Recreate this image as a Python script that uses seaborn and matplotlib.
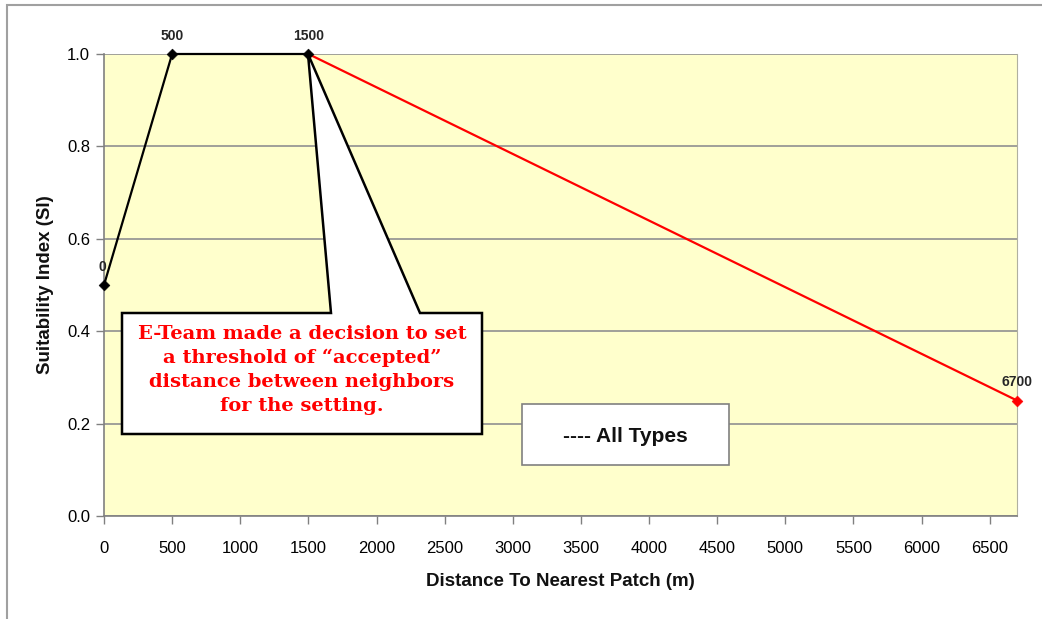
import matplotlib
matplotlib.use("Agg")
import matplotlib.pyplot as plt
from matplotlib.patches import Polygon, Rectangle
import seaborn as sns
import pandas as pd

# --- Dati ---
distance = [0, 500, 1500, 6700]
suitability = [0.5, 1.0, 1.0, 0.25]
point_labels = ["0", "500", "1500", "6700"]
black_part = [0, 1, 2]
red_part = [2, 3]
x_ticks = list(range(0, 7000, 500))
y_ticks = [0.0, 0.2, 0.4, 0.6, 0.8, 1.0]
callout_text = ("E-Team made a decision to set\na threshold of \u201caccepted\u201d\n"
                "distance between neighbors\nfor the setting.")

sns.set_style("white")
plt.rcParams["font.family"] = ["Liberation Sans", "DejaVu Sans"]

df = pd.DataFrame({"distance": distance, "si": suitability})

fig = plt.figure(figsize=(10.42, 6.19), dpi=100)
ax = fig.add_axes([104 / 1042, 1 - 516 / 619, 913 / 1042, 462 / 619])
ax.set_facecolor("#FFFFCC")
ax.set_axisbelow(True)

# cornice esterna
fig.patches.append(Rectangle((7 / 1042, -0.01), 1.2, 1 - 5 / 619 + 0.01, transform=fig.transFigure,
                             fill=False, edgecolor="#A0A0A0", linewidth=1.5))

sns.lineplot(data=df.iloc[black_part], x="distance", y="si", color="black", linewidth=1.6,
             ax=ax, sort=False, zorder=4, clip_on=False)
sns.lineplot(data=df.iloc[red_part], x="distance", y="si", color="#FF0000", linewidth=1.6,
             ax=ax, sort=False, zorder=3, clip_on=False)
sns.scatterplot(x=distance[:3], y=suitability[:3], marker="D", s=30, color="black",
                edgecolor="black", ax=ax, zorder=5, clip_on=False)
sns.scatterplot(x=distance[3:], y=suitability[3:], marker="D", s=30, color="#FF0000",
                edgecolor="#FF0000", ax=ax, zorder=5, clip_on=False)

for xv, yv, lab in zip(distance, suitability, point_labels):
    dx = -1 if lab == "0" else 0
    ax.annotate(lab, (xv, yv), xytext=(dx, 8), textcoords="offset points",
                ha="center", va="bottom", fontsize=10, fontweight="bold")

ax.set_xlim(0, 6700)
ax.set_ylim(0, 1.0)
ax.set_xticks(x_ticks)
ax.set_yticks(y_ticks)
ax.set_yticklabels([f"{v:.1f}" for v in y_ticks])
ax.tick_params(axis="both", labelsize=12, length=6, width=1, color="#808080", direction="out",
               bottom=True, left=True, labelcolor="black")
ax.tick_params(axis="x", pad=12)
ax.tick_params(axis="y", pad=4)
ax.yaxis.grid(True, color="#909090", linewidth=1.2)
ax.xaxis.grid(False)
for side in ["left", "bottom"]:
    ax.spines[side].set_color("#808080")
    ax.spines[side].set_linewidth(1.2)
ax.spines["right"].set_color("#B0B0A0")
ax.spines["top"].set_visible(False)
ax.set_xlabel("Distance To Nearest Patch (m)", fontsize=13.5, fontweight="bold", labelpad=12,
              color="#111111")
ax.set_ylabel("Suitability Index (SI)", fontsize=13.5, fontweight="bold", labelpad=9,
              color="#111111")


def to_data(px, py):
    return ((px - 104) / 913 * 6700, (516 - py) / 462)


callout = [to_data(*p) for p in [(122, 313), (331, 313), (308, 54), (420, 313),
                                 (482, 313), (482, 434), (122, 434)]]
ax.add_patch(Polygon(callout, closed=True, facecolor="white", edgecolor="black",
                     linewidth=1.8, zorder=6))
cx, cy = to_data(302, 370)
ax.text(cx, cy, callout_text, ha="center", va="center", color="#FF0000", fontsize=14,
        fontweight="bold", family="DejaVu Serif", linespacing=1.42, zorder=7)

lx0, ly0 = to_data(522, 465)
lx1, ly1 = to_data(729, 404)
ax.add_patch(Rectangle((lx0, ly0), lx1 - lx0, ly1 - ly0, facecolor="white",
                       edgecolor="#808080", linewidth=1.2, zorder=6))
tx, ty = to_data(625, 436)
ax.text(tx, ty, "---- All Types", ha="center", va="center", fontsize=15,
        fontweight="bold", zorder=7, color="#111111")

fig.savefig("out.png", dpi=100)
